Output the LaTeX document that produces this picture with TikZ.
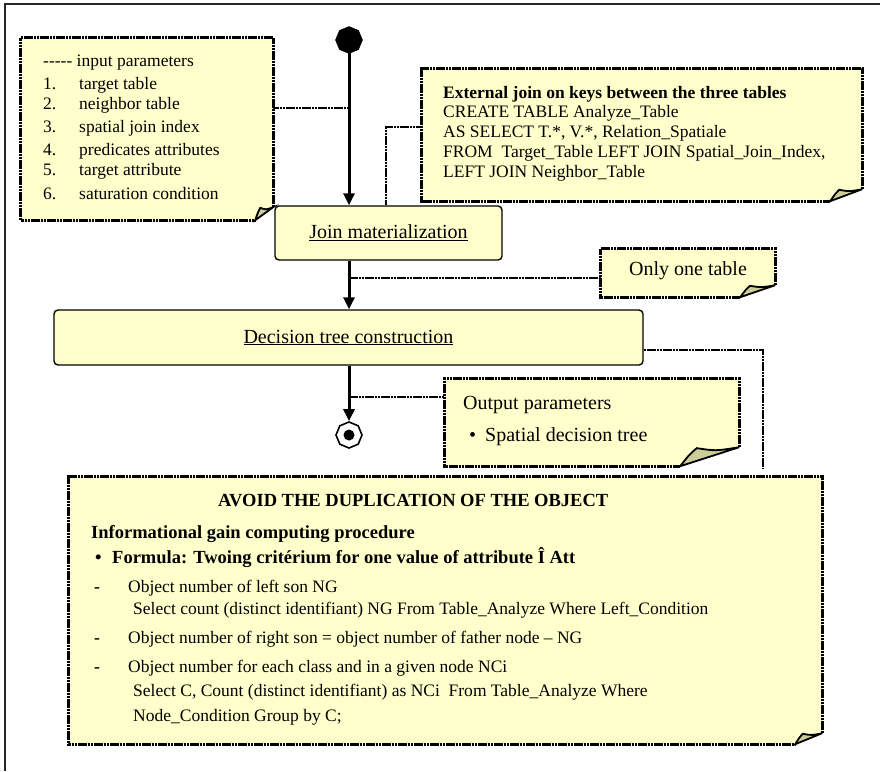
\documentclass[tikz,border=0pt]{standalone}
\usepackage{fontspec}
\setmainfont{Liberation Serif}[Ligatures=TeXOff]
\usetikzlibrary{arrows.meta,shapes.geometric,calc}
\definecolor{noteyellow}{HTML}{FFFFCC}
\definecolor{foldolive}{HTML}{CCCC99}
\newcommand{\notedraw}[3]{%
  \fill[noteyellow] (#1.north west) -- (#1.north east) -- ([yshift=#3pt]#1.south east) -- ([xshift=-#2pt]#1.south east) -- (#1.south west) -- cycle;
  \filldraw[fill=foldolive,line width=1.8pt] ([xshift=-#2pt]#1.south east) .. controls ([xshift=-0.85*#2pt,yshift=0.6*#3pt]#1.south east) .. ([xshift=-0.72*#2pt,yshift=0.95*#3pt]#1.south east) .. controls ([xshift=-0.4*#2pt,yshift=0.8*#3pt]#1.south east) .. ([yshift=#3pt]#1.south east) -- cycle;
  \draw[notebd] ([yshift=#3pt]#1.south east) -- (#1.north east) -- (#1.north west) -- (#1.south west) -- ([xshift=-#2pt]#1.south east);
}
\begin{document}
\begin{tikzpicture}[x=1pt,y=-1pt,
  flow/.style={line width=3pt,-{Triangle[length=12pt,width=11pt]}},
  conn/.style={line width=2.8pt,dash pattern=on 2.6pt off 0.6pt,black},
  notebd/.style={line width=3pt,dash pattern=on 2.6pt off 0.6pt,black,line join=miter},
  procbox/.style={draw,line width=1.4pt,fill=noteyellow,rounded corners=4pt,inner sep=0pt,font=\fontsize{20}{24}\selectfont},
  notearea/.style={draw=none,inner sep=0pt},
  t/.style={inner sep=0pt,anchor=base west},
  fa/.style={font=\fontsize{17.5}{20}\selectfont},
  fab/.style={font=\fontsize{17.5}{20}\selectfont\bfseries},
  fbb/.style={font=\fontsize{18.5}{22}\selectfont\bfseries},
  fc/.style={font=\fontsize{20}{24}\selectfont}]
\useasboundingbox (0,0) rectangle (880,771);
\fill[white] (0,0) rectangle (880,771);
\draw[line width=1.6pt,black!85] (5,771) -- (5,4) -- (880,4);

% placeholders for notes
\node[notearea,minimum width=252pt,minimum height=182pt] (inp) at (147,129) {};
\node[notearea,minimum width=440pt,minimum height=132pt] (ext) at (642,135) {};
\node[notearea,minimum width=174pt,minimum height=48pt] (only) at (688,273) {};
\node[notearea,minimum width=294pt,minimum height=87pt] (out) at (592,422.5) {};
\node[notearea,minimum width=753pt,minimum height=267pt] (big) at (445.5,610.5) {};

% activity nodes
\node[regular polygon,regular polygon sides=8,shape border rotate=22.5,fill=black,draw=black,minimum size=27pt,inner sep=0pt] (start) at (349,40) {};
\node[procbox,minimum width=227pt,minimum height=54pt] (join) at (388.5,233) {\underline{Join materialization}};
\node[procbox,minimum width=589pt,minimum height=55pt] (dec) at (348.5,337.5) {\underline{Decision tree construction}};
\node[regular polygon,regular polygon sides=8,shape border rotate=22.5,fill=white,draw=black,line width=1.6pt,minimum size=26pt,inner sep=0pt] (endn) at (349,435) {};
\fill (endn.center) circle (5.5pt);

% coordinates for connectors
\coordinate (c1) at (349,108);
\coordinate (c2) at (386,127);
\coordinate (c3) at (349,278);
\coordinate (c4) at (349,397);
\coordinate (c5) at (763,350);

% connectors
\draw[conn] (inp.east |- c1) -- (c1);
\draw[conn] (ext.west |- c2) -- (c2) -- (c2 |- join.north);
\draw[conn] (c3) -- (c3 -| only.west);
\draw[conn] (c4) -- (c4 -| out.west);
\draw[conn,shorten >=9pt] (dec.east |- c5) -- (c5) -- (c5 |- big.north);

% flow
\draw[flow] (start.center) -- (start |- join.north);
\draw[flow] (start |- join.south) -- (start |- dec.north);
\draw[flow] (start |- dec.south) -- (endn.north);

% notes
\notedraw{inp}{18}{13}
\notedraw{ext}{32}{12}
\notedraw{only}{35}{12}
\notedraw{out}{59}{19}
\notedraw{big}{27}{11}

% input parameters
\node[t,fa] (i0) at (43,66) {----- input parameters};
\node[t,fa] (n1) at (43,89) {1.};   \node[t,fa] (i1) at (79,89) {target table};
\node[t,fa] (n2) at (43,109) {2.};  \node[t,fa] (i2) at (79,109) {neighbor table};
\node[t,fa] (n3) at (43,132) {3.};  \node[t,fa] (i3) at (79,132) {spatial join index};
\node[t,fa] (n4) at (43,155) {4.};  \node[t,fa] (i4) at (79,155) {predicates attributes};
\node[t,fa] (n5) at (43,175) {5.};  \node[t,fa] (i5) at (79,175) {target attribute};
\node[t,fa] (n6) at (43,199) {6.};  \node[t,fa] (i6) at (79,199) {saturation condition};

% external join
\node[t,fab] (e1) at (443,98) {External join on keys between the three tables};
\node[t,fa] (e2) at (443,117) {CREATE TABLE Analyze\_Table};
\node[t,fa] (e3) at (443,137) {AS SELECT T.*, V.*, Relation\_Spatiale};
\node[t,fa] (e4) at (443,157) {FROM\ \ Target\_Table LEFT JOIN Spatial\_Join\_Index,};
\node[t,fa] (e5) at (443,177) {LEFT JOIN Neighbor\_Table};

% only one table
\node[inner sep=0pt,fc] (o1) at (688,271) {Only one table};

% output parameters
\node[t,fc] (p1) at (463,409) {Output parameters};
\node[t,fc] (p2) at (469,441) {•};
\node[t,fc] (p3) at (485,441) {Spatial decision tree};

% big note
\node[t,fbb] (b1) at (218,506) {AVOID THE DUPLICATION OF THE OBJECT};
\node[t,fbb] (b2) at (91,538) {Informational gain computing procedure};
\node[t,fbb] (b3) at (95,563) {•};
\node[t,fbb] (b4) at (112,563) {Formula: Twoing critérium for one value of attribute Î Att};
\node[t,fab] (d1) at (94,592) {-};
\node[t,fa] (b5) at (128,592) {Object number of left son NG};
\node[t,fa] (b6) at (133,614) {Select count (distinct identifiant) NG From Table\_Analyze Where Left\_Condition};
\node[t,fab] (d2) at (94,643) {-};
\node[t,fa] (b7) at (128,643) {Object number of right son = object number of father node – NG};
\node[t,fab] (d3) at (94,672) {-};
\node[t,fa] (b8) at (128,672) {Object number for each class and in a given node NCi};
\node[t,fa] (b9) at (133,696) {Select C, Count (distinct identifiant) as NCi\ \ From Table\_Analyze Where};
\node[t,fa] (b10) at (133,721) {Node\_Condition Group by C;};
\end{tikzpicture}
\end{document}
